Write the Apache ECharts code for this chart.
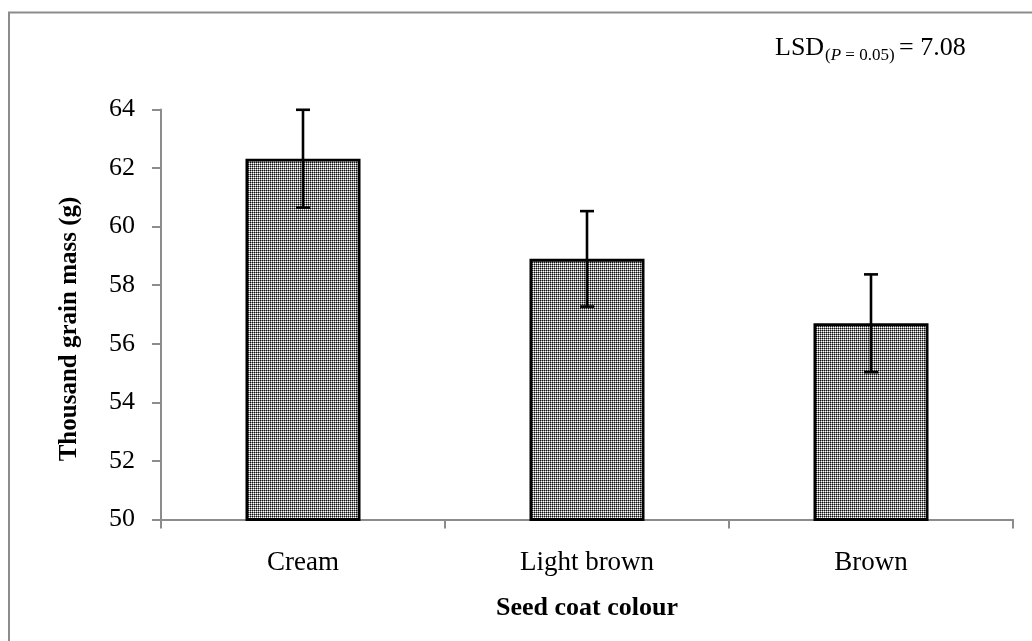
<!DOCTYPE html>
<html>
<head>
<meta charset="utf-8">
<script src="https://cdn.jsdelivr.net/npm/echarts@6/dist/echarts.min.js"></script>
<style>
  html, body { margin: 0; padding: 0; background: #fff; }
  #chart { width: 1032px; height: 641px; }
</style>
</head>
<body>
<div id="chart"></div>
<script>
const categories = ['Cream', 'Light brown', 'Brown'];
const means = [62.32, 58.9, 56.7];
const errors = [1.67, 1.63, 1.67];
const yTicks = [50, 52, 54, 56, 58, 60, 62, 64];

// patterned fill like the Excel "dotted grid" pattern
const tile = document.createElement('canvas');
tile.width = 2; tile.height = 2;
const tc = tile.getContext('2d');
tc.fillStyle = '#111111'; tc.fillRect(0, 0, 1, 1);
tc.fillStyle = '#8a8a8a'; tc.fillRect(1, 0, 1, 1); tc.fillRect(0, 1, 1, 1);
tc.fillStyle = '#ffffff'; tc.fillRect(1, 1, 1, 1);

const serif = '"Liberation Serif", "DejaVu Serif", serif';
const chart = echarts.init(document.getElementById('chart'));

chart.setOption({
  animation: false,
  backgroundColor: '#fff',
  grid: { left: 161, right: 19, top: 109.5, bottom: 121.5, containLabel: false },
  xAxis: {
    type: 'category',
    data: categories,
    axisLine: { lineStyle: { color: '#8c8c8c', width: 2 } },
    axisTick: { show: true, length: 9, lineStyle: { color: '#8c8c8c', width: 2 } },
    axisLabel: { color: '#000', fontFamily: serif, fontSize: 27, margin: 30 },
    name: 'Seed coat colour',
    nameLocation: 'middle',
    nameGap: 76,
    nameTextStyle: { color: '#000', fontFamily: serif, fontSize: 26, fontWeight: 'bold' }
  },
  yAxis: {
    type: 'value',
    min: yTicks[0],
    max: yTicks[yTicks.length - 1],
    interval: 2,
    splitLine: { show: false },
    axisLine: { show: true, lineStyle: { color: '#8c8c8c', width: 2 } },
    axisTick: { show: true, length: 9, lineStyle: { color: '#8c8c8c', width: 2 } },
    axisLabel: { color: '#000', fontFamily: serif, fontSize: 26, margin: 26 }
  },
  series: [
    {
      type: 'bar',
      data: means,
      barWidth: '40.5%',
      itemStyle: {
        color: { image: tile, repeat: 'repeat' },
        borderColor: '#000',
        borderWidth: 2.8
      }
    },
    {
      type: 'custom',
      data: means.map((m, i) => [i, m - errors[i], m + errors[i]]),
      renderItem: function (params, api) {
        const lo = api.coord([api.value(0), api.value(1)]);
        const hi = api.coord([api.value(0), api.value(2)]);
        const x = Math.round(lo[0]);
        const half = 7;
        const st = { stroke: '#000', lineWidth: 2.6 };
        return {
          type: 'group',
          children: [
            { type: 'line', shape: { x1: x, y1: hi[1], x2: x, y2: lo[1] }, style: st },
            { type: 'line', shape: { x1: x - half, y1: hi[1], x2: x + half, y2: hi[1] }, style: st },
            { type: 'line', shape: { x1: x - half, y1: lo[1], x2: x + half, y2: lo[1] }, style: st }
          ]
        };
      },
      z: 10
    }
  ],
  graphic: [
    {
      type: 'rect',
      shape: { x: 9, y: 12.5, width: 1040, height: 660 },
      style: { fill: 'none', stroke: '#8c8c8c', lineWidth: 2 },
      silent: true
    },
    {
      type: 'text',
      x: 70, y: 329,
      rotation: Math.PI / 2,
      style: {
        text: 'Thousand grain mass (g)',
        font: 'bold 25px ' + serif,
        fill: '#000',
        align: 'center',
        verticalAlign: 'middle'
      }
    },
    {
      type: 'text',
      left: 775, top: 35,
      style: { text: 'LSD', font: '26px ' + serif, fill: '#000' }
    },
    {
      type: 'text',
      left: 825, top: 47,
      style: {
        text: '{n|(}{i|P}{n| = 0.05)}',
        rich: {
          n: { fontFamily: serif, fontSize: 17, color: '#000' },
          i: { fontFamily: serif, fontSize: 17, fontStyle: 'italic', color: '#000' }
        },
        fill: '#000'
      }
    },
    {
      type: 'text',
      left: 899, top: 35,
      style: { text: '= 7.08', font: '26px ' + serif, fill: '#000' }
    }
  ]
});
</script>
</body>
</html>
